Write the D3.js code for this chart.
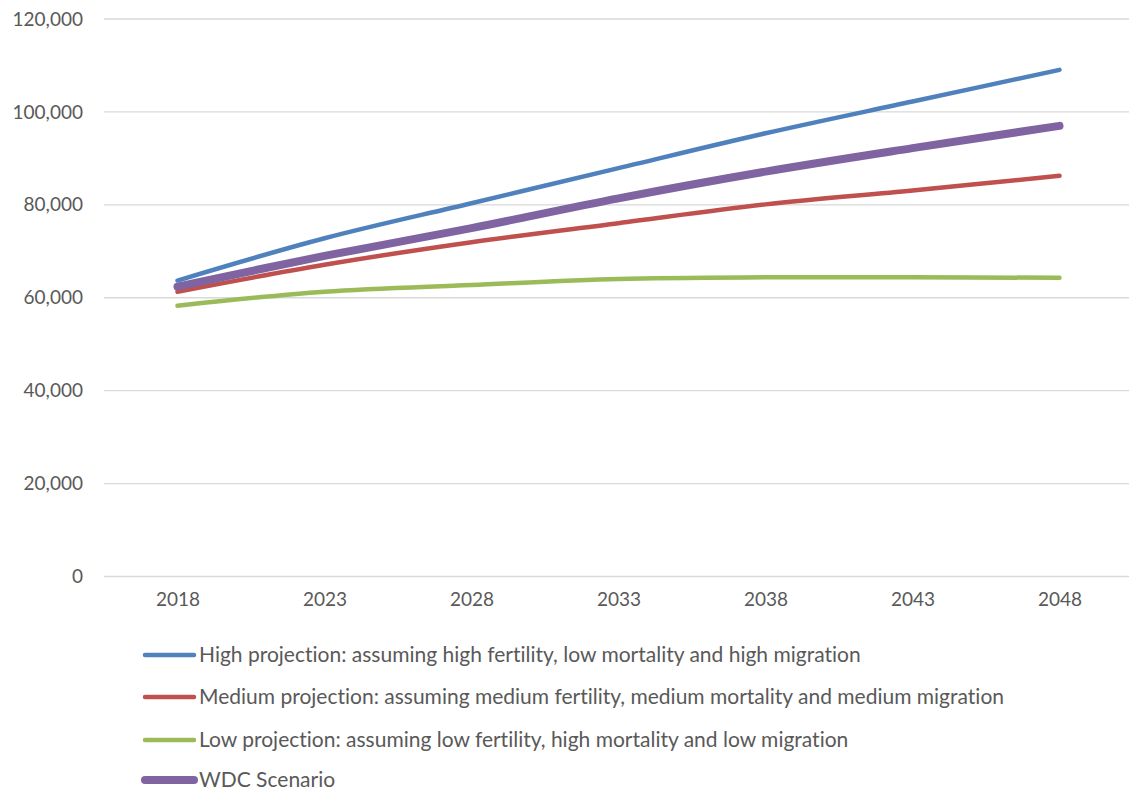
<!DOCTYPE html>
<html>
<head>
<meta charset="utf-8">
<script src="https://cdn.jsdelivr.net/npm/d3@7"></script>
<style>
  html, body { margin: 0; padding: 0; background: #fff; }
  svg { display: block; font-family: Lato, "Open Sans", sans-serif; font-variant-ligatures: none; }
</style>
</head>
<body>
<svg id="chart" width="1129" height="791"></svg>
<script>
// Population projections, 2018–2048
const years = ["2018", "2023", "2028", "2033", "2038", "2043", "2048"];
const highProjection   = [63700, 72800, 80350, 87900, 95400, 102250, 109050];
const mediumProjection = [61300, 67100, 71950, 76050, 80100, 83100, 86250];
const lowProjection    = [58300, 61300, 62750, 64050, 64400, 64400, 64300];
const wdcScenario      = [62400, 69000, 75000, 81400, 87150, 92200, 97000];
const yTicks = [0, 20000, 40000, 60000, 80000, 100000, 120000];

const seriesNames = [
  "High projection: assuming high fertility, low mortality and high migration",
  "Medium projection: assuming medium fertility, medium mortality and medium migration",
  "Low projection: assuming low fertility, high mortality and low migration",
  "WDC Scenario"
];

const series = [
  { name: seriesNames[0], values: highProjection,   color: "#4F81BD", width: 4.5 },
  { name: seriesNames[1], values: mediumProjection, color: "#C0504D", width: 4.5 },
  { name: seriesNames[2], values: lowProjection,    color: "#9BBB59", width: 4.5 },
  { name: seriesNames[3], values: wdcScenario,      color: "#8064A2", width: 8 }
];

const svg = d3.select("#chart");
const plot = { left: 104, right: 1133, top: 19, bottom: 576.5 };

const x = d3.scalePoint().domain(years).range([plot.left, plot.right]).padding(0.5);
const y = d3.scaleLinear().domain([0, 120000]).range([plot.bottom, plot.top]);

// Horizontal gridlines
svg.append("g")
  .selectAll("line")
  .data(yTicks)
  .join("line")
  .attr("x1", plot.left)
  .attr("x2", plot.right)
  .attr("y1", d => y(d))
  .attr("y2", d => y(d))
  .attr("stroke", "#d9d9d9")
  .attr("stroke-width", 1.3);

// Y axis labels
const fmt = d3.format(",");
const yAxis = d3.axisLeft(y).tickValues(yTicks).tickFormat(d => fmt(d)).tickSize(0).tickPadding(0);
const gy = svg.append("g").attr("transform", `translate(83,0)`).call(yAxis);
gy.select(".domain").remove();
gy.selectAll("text")
  .attr("font-family", "Lato, 'Open Sans', sans-serif")
  .attr("font-size", 19)
  .attr("fill", "#595959");

// X axis labels
const xAxis = d3.axisBottom(x).tickSize(0).tickPadding(0);
const gx = svg.append("g").attr("transform", `translate(0,${plot.bottom + 16})`).call(xAxis);
gx.select(".domain").remove();
gx.selectAll("text")
  .attr("font-family", "Lato, 'Open Sans', sans-serif")
  .attr("font-size", 19)
  .attr("fill", "#595959");

// Series lines
const line = d3.line()
  .x((d, i) => x(years[i]))
  .y(d => y(d))
  .curve(d3.curveCatmullRom.alpha(0.5));

svg.append("g")
  .selectAll("path")
  .data(series)
  .join("path")
  .attr("d", d => line(d.values))
  .attr("fill", "none")
  .attr("stroke", d => d.color)
  .attr("stroke-width", d => d.width)
  .attr("stroke-linecap", "round")
  .attr("stroke-linejoin", "round");

// Legend
const legendY = [655, 697, 740, 780];
const legend = svg.append("g")
  .selectAll("g")
  .data(series)
  .join("g")
  .attr("transform", (d, i) => `translate(0,${legendY[i]})`);

legend.append("line")
  .attr("x1", 145)
  .attr("x2", 194)
  .attr("y1", 0)
  .attr("y2", 0)
  .attr("stroke", d => d.color)
  .attr("stroke-width", d => d.width)
  .attr("stroke-linecap", "round");

legend.append("text")
  .attr("x", 199)
  .attr("y", 6.5)
  .attr("font-size", 21)
  .attr("fill", "#595959")
  .text(d => d.name);
</script>
</body>
</html>
